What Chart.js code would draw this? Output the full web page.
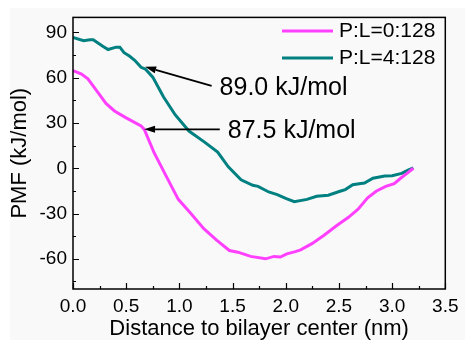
<!DOCTYPE html>
<html lang="en">
<head>
  <meta charset="UTF-8">
  <title>PMF vs distance to bilayer center</title>
  <script src="https://cdn.jsdelivr.net/npm/chart.js"></script>
  <style>
    html, body { margin: 0; padding: 0; background: #fff; }
    #wrap { width: 465px; height: 340px; }
  </style>
</head>
<body>
  <div id="wrap"><canvas id="pmfChart" width="465" height="340"></canvas></div>

  <script>
    // P:L = 0:128 (magenta)
    const distA = [0, 0.08, 0.14, 0.22, 0.31, 0.39, 0.5, 0.64, 0.67, 0.76, 0.87, 0.99, 1.1, 1.23, 1.35, 1.47, 1.55, 1.67, 1.81, 1.89, 1.95, 2.01, 2.09, 2.14, 2.25, 2.36, 2.48, 2.59, 2.68, 2.77, 2.85, 2.94, 3.02, 3.08, 3.14, 3.2];
    const pmfA = [64.7, 62.5, 59.3, 51.7, 43, 38, 33.4, 28, 25.8, 10.7, -4.4, -20.6, -29.3, -40, -47.6, -54.5, -55.6, -58.4, -60, -58.4, -58.8, -56.7, -55.2, -54.1, -49.8, -44.4, -37.9, -32.5, -27.1, -19.6, -15.2, -12, -10.2, -6.6, -3.4, 0];

    // P:L = 4:128 (teal)
    const distB = [0, 0.1, 0.16, 0.19, 0.28, 0.33, 0.405, 0.44, 0.48, 0.53, 0.58, 0.64, 0.68, 0.75, 0.85, 0.96, 1.09, 1.24, 1.36, 1.46, 1.58, 1.69, 1.74, 1.84, 1.92, 2.0, 2.08, 2.2, 2.29, 2.4, 2.51, 2.56, 2.63, 2.69, 2.74, 2.82, 2.93, 3.0, 3.09, 3.15, 3.2];
    const pmfB = [86.7, 84.6, 85.2, 85.2, 80.9, 78.7, 80.3, 80.3, 76.6, 74.4, 71.6, 66.9, 65.8, 60.4, 47.4, 35.5, 24.7, 17.2, 10.7, 1, -7.6, -11.3, -12, -15.7, -17.4, -20, -22.1, -20.6, -18.5, -17.8, -15.2, -14.1, -10.9, -10.2, -9.8, -6.6, -5.1, -4.9, -3.4, -1.2, 0.3];

    const seriesLabels = ['P:L=0:128', 'P:L=4:128'];

    // tick positions (labelled ones are the majors)
    const xTickVals = [0, 0.25, 0.5, 0.75, 1, 1.25, 1.5, 1.75, 2, 2.25, 2.5, 2.75, 3, 3.25, 3.5];
    const xMajor = [0, 0.5, 1, 1.5, 2, 2.5, 3, 3.5];
    const yTickVals = [-75, -60, -45, -30, -15, 0, 15, 30, 45, 60, 75, 90];
    const yMajor = [-60, -30, 0, 30, 60, 90];

    // barrier annotations: label, arrow tail, arrow tip (data units)
    const noteText = ['89.0 kJ/mol', '87.5 kJ/mol'];
    const noteTail = [[1.303, 54.6], [1.38, 25.8]];
    const noteTip = [[0.678, 67.3], [0.668, 25.8]];

    const FONT = '"Liberation Sans", Arial, sans-serif';

    const pts = (xs, ys) => xs.map((x, i) => ({ x, y: ys[i] }));
    const isMajor = (list, v) => list.some(m => Math.abs(m - v) < 1e-6);

    const backdrop = {
      id: 'backdrop',
      beforeDraw(chart) {
        const ctx = chart.ctx;
        ctx.save();
        ctx.fillStyle = '#ffffff';
        ctx.fillRect(0, 0, chart.width, chart.height);
        ctx.fillStyle = '#f9f9f9';
        ctx.fillRect(10, 8, chart.width - 10, chart.height - 8);
        ctx.restore();
      }
    };

    // frame + inward ticks
    const frame = {
      id: 'frame',
      afterDatasetsDraw(chart) {
        const { ctx, chartArea: a, scales } = chart;
        ctx.save();
        ctx.strokeStyle = '#000';
        ctx.lineWidth = 1.5;
        ctx.strokeRect(a.left, a.top, a.right - a.left, a.bottom - a.top);
        ctx.lineWidth = 1.2;
        ctx.beginPath();
        scales.x.ticks.forEach(t => {
          const px = Math.round(scales.x.getPixelForValue(t.value)) + 0.5;
          ctx.moveTo(px, a.bottom);
          ctx.lineTo(px, a.bottom - (isMajor(xMajor, t.value) ? 6 : 3));
        });
        scales.y.ticks.forEach(t => {
          const py = Math.round(scales.y.getPixelForValue(t.value)) + 0.5;
          ctx.moveTo(a.left, py);
          ctx.lineTo(a.left + (isMajor(yMajor, t.value) ? 6 : 3), py);
        });
        ctx.stroke();
        ctx.restore();
      }
    };

    const notes = {
      id: 'notes',
      afterDatasetsDraw(chart) {
        const { ctx, scales } = chart;
        ctx.save();
        ctx.strokeStyle = '#000';
        ctx.fillStyle = '#000';
        noteText.forEach((txt, i) => {
          const x0 = scales.x.getPixelForValue(noteTail[i][0]);
          const y0 = scales.y.getPixelForValue(noteTail[i][1]);
          const x1 = scales.x.getPixelForValue(noteTip[i][0]);
          const y1 = scales.y.getPixelForValue(noteTip[i][1]);
          const ang = Math.atan2(y1 - y0, x1 - x0);
          const hl = 11, hw = 3.5;
          const bx = x1 - hl * Math.cos(ang), by = y1 - hl * Math.sin(ang);
          ctx.lineWidth = 1.8;
          ctx.beginPath();
          ctx.moveTo(x0, y0);
          ctx.lineTo(bx, by);
          ctx.stroke();
          ctx.beginPath();
          ctx.moveTo(x1, y1);
          ctx.lineTo(bx + hw * Math.sin(ang), by - hw * Math.cos(ang));
          ctx.lineTo(bx - hw * Math.sin(ang), by + hw * Math.cos(ang));
          ctx.closePath();
          ctx.fill();
          ctx.font = '25px ' + FONT;
          ctx.textBaseline = 'middle';
          ctx.textAlign = 'left';
          ctx.fillText(txt, x0 + 8, y0 + 2);
        });
        ctx.restore();
      }
    };

    const keyBox = {
      id: 'keyBox',
      afterDatasetsDraw(chart) {
        const ctx = chart.ctx;
        ctx.save();
        ctx.font = '21px ' + FONT;
        ctx.textBaseline = 'middle';
        chart.data.datasets.forEach((ds, i) => {
          const y = 31 + i * 27;
          ctx.strokeStyle = ds.borderColor;
          ctx.lineWidth = 3;
          ctx.beginPath();
          ctx.moveTo(282, y);
          ctx.lineTo(333, y);
          ctx.stroke();
          ctx.fillStyle = '#000';
          ctx.fillText(ds.label, 339, y);
        });
        ctx.restore();
      }
    };

    new Chart(document.getElementById('pmfChart'), {
      type: 'line',
      data: {
        datasets: [
          { label: seriesLabels[0], data: pts(distA, pmfA), borderColor: '#ff40ff', borderWidth: 3, pointRadius: 0, tension: 0 },
          { label: seriesLabels[1], data: pts(distB, pmfB), borderColor: '#008080', borderWidth: 3, pointRadius: 0, tension: 0 }
        ]
      },
      options: {
        responsive: false,
        animation: false,
        layout: { padding: { top: 13, right: 15, left: 0, bottom: 0 } },
        plugins: { legend: { display: false }, tooltip: { enabled: false } },
        scales: {
          x: {
            type: 'linear',
            min: 0, max: 3.5,
            grid: { display: false, drawTicks: false },
            border: { display: false },
            afterBuildTicks: s => { s.ticks = xTickVals.map(v => ({ value: v })); },
            ticks: {
              padding: 6.5, color: '#000', font: { family: FONT, size: 19 },
              maxRotation: 0, autoSkip: false,
              callback: v => (isMajor(xMajor, v) ? v.toFixed(1) : '')
            },
            title: {
              display: true, text: 'Distance to bilayer center (nm)', color: '#000',
              font: { family: FONT, size: 22, lineHeight: 1 }, padding: { top: 0, bottom: 0 }
            },
            afterFit: s => { s.height = 51; }
          },
          y: {
            min: -80, max: 100,
            grid: { display: false, drawTicks: false },
            border: { display: false },
            afterBuildTicks: s => { s.ticks = yTickVals.map(v => ({ value: v })); },
            ticks: {
              padding: 6, color: '#000', font: { family: FONT, size: 19 }, autoSkip: false,
              callback: v => (isMajor(yMajor, v) ? String(v) : '')
            },
            title: {
              display: true, text: 'PMF (kJ/mol)', color: '#000',
              font: { family: FONT, size: 22, lineHeight: 1 }, padding: { top: 9, bottom: 0 }
            },
            afterFit: s => { s.width = 73; }
          }
        }
      },
      plugins: [backdrop, frame, notes, keyBox]
    });
  </script>
</body>
</html>
